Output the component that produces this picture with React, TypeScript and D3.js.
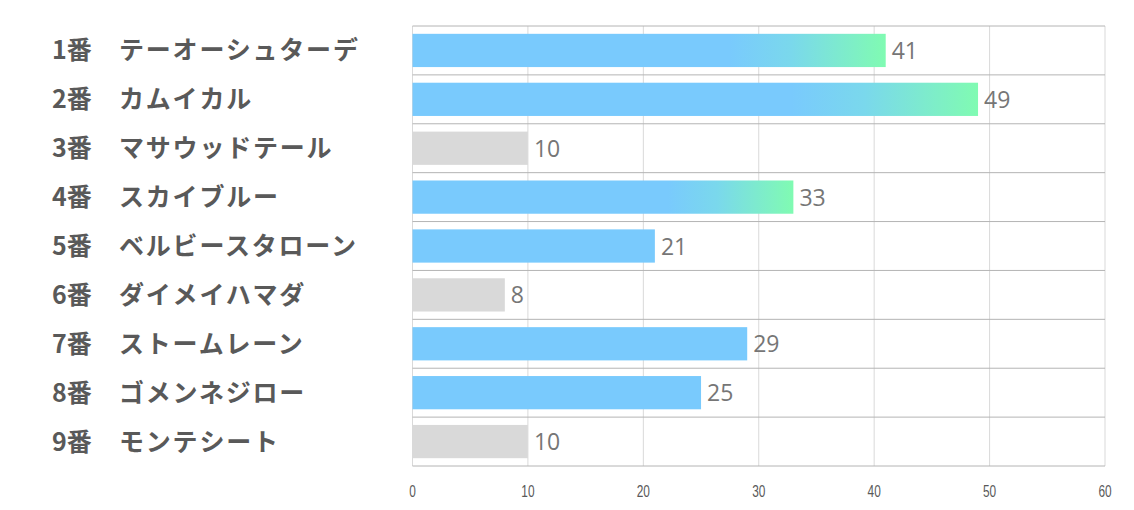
import React from "react";
import * as d3 from "d3";

const numbers = ["1番", "2番", "3番", "4番", "5番", "6番", "7番", "8番", "9番"];
const names = ["テーオーシュターデ", "カムイカル", "マサウッドテール", "スカイブルー", "ベルビースタローン", "ダイメイハマダ", "ストームレーン", "ゴメンネジロー", "モンテシート"];
const values = [41, 49, 10, 33, 21, 8, 29, 25, 10];
const kinds = ["grad", "grad", "gray", "grad", "blue", "gray", "blue", "blue", "gray"];
const ticks = [0, 10, 20, 30, 40, 50, 60];

const W = 1134, H = 510;
const left = 412.5, right = 1105, top = 26, bottom = 466;

export default function App() {
  const x = d3.scaleLinear().domain([0, 60]).range([left, right]);
  const y = d3.scaleBand<number>().domain(d3.range(values.length)).range([top, bottom]).paddingInner(0.32).paddingOuter(0.16);
  const band = (bottom - top) / values.length;
  const fill = (i: number) => kinds[i] === "gray" ? "#D9D9D9" : kinds[i] === "blue" ? "#79CAFD" : `url(#g${i})`;
  return (
    <svg width={W} height={H} style={{ position: "absolute", left: 0, top: 0, background: "#fff" }}>
      <defs>
        {values.map((v, i) => kinds[i] === "grad" ? (
          <linearGradient key={i} id={`g${i}`} x1="0" x2="1" y1="0" y2="0">
            <stop offset="0" stopColor="#79CAFD" />
            <stop offset="0.67" stopColor="#79CAFD" />
            <stop offset="0.8" stopColor="#7AD8EC" />
            <stop offset="1" stopColor="#80FBB2" />
          </linearGradient>
        ) : null)}
      </defs>
      {ticks.map((t) => (
        <line key={t} x1={x(t)} x2={x(t)} y1={top} y2={bottom} stroke="#D9D9D9" strokeWidth={1} />
      ))}
      {d3.range(values.length + 1).map((i) => (
        <line key={i} x1={left} x2={right} y1={top + i * band} y2={top + i * band} stroke="#B4B4B4" strokeWidth={1} />
      ))}
      {values.map((v, i) => (
        <g key={i}>
          <rect x={x(0)} y={y(i)} width={x(v) - x(0)} height={y.bandwidth()} fill={fill(i)} />
          <text x={x(v) + 6} y={y(i)! + y.bandwidth() / 2} dy="0.37em" fontSize={23} fill="#767676" fontFamily="'Open Sans', 'Noto Sans', sans-serif">{v}</text>
          <text x={52} y={y(i)! + y.bandwidth() / 2} dy="0.36em" fontSize={25} fontWeight="bold" fill="#595959" fontFamily="'Noto Sans CJK JP', sans-serif">{numbers[i]}</text>
          <text x={119} y={y(i)! + y.bandwidth() / 2} dy="0.36em" fontSize={25} letterSpacing={1.8} fontWeight="bold" fill="#595959" fontFamily="'Noto Sans CJK JP', sans-serif">{names[i]}</text>
        </g>
      ))}
      {ticks.map((t) => (
        <text key={t} transform={`translate(${x(t)},497) scale(0.72,1)`} textAnchor="middle" fontSize={16.5} fill="#595959" fontFamily="'Liberation Sans', Arial, sans-serif">{t}</text>
      ))}
    </svg>
  );
}
